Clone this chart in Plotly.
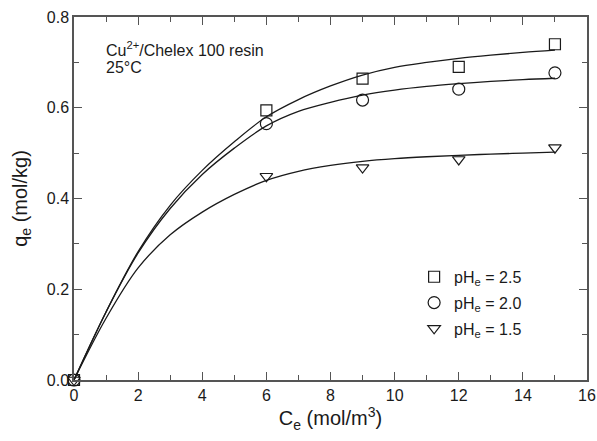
import plotly.graph_objects as go

# measured data points
ce_points = [0, 6, 9, 12, 15]
q_ph25 = [0, 0.594, 0.664, 0.690, 0.740]
q_ph20 = [0, 0.565, 0.617, 0.641, 0.677]
q_ph15 = [0, 0.449, 0.468, 0.486, 0.512]

# fitted curves
ce_curve = [0, 1, 2, 3, 4, 5, 6, 7, 8, 9, 10, 11, 12, 13, 14, 15]
fit_ph25 = [0, 0.150, 0.283, 0.385, 0.462, 0.525, 0.580, 0.618, 0.648, 0.672, 0.689, 0.700, 0.709, 0.716, 0.722, 0.727]
fit_ph20 = [0, 0.150, 0.280, 0.378, 0.453, 0.511, 0.560, 0.592, 0.612, 0.628, 0.639, 0.647, 0.653, 0.658, 0.662, 0.665]
fit_ph15 = [0, 0.136, 0.247, 0.320, 0.370, 0.409, 0.440, 0.460, 0.473, 0.482, 0.488, 0.492, 0.495, 0.498, 0.500, 0.502]

names = ["pH<sub>e</sub> = 2.5", "pH<sub>e</sub> = 2.0", "pH<sub>e</sub> = 1.5"]
symbols = ["square-open", "circle-open", "triangle-down-open"]
sizes = [11, 12, 11]

x_ticks = [0, 2, 4, 6, 8, 10, 12, 14, 16]
y_ticks = [0.0, 0.2, 0.4, 0.6, 0.8]

fig = go.Figure()
for fit in [fit_ph25, fit_ph20, fit_ph15]:
    fig.add_trace(go.Scatter(x=ce_curve, y=fit, mode="lines",
                             line=dict(color="#1a1a1a", width=1.3, shape="spline", smoothing=1.0),
                             showlegend=False, hoverinfo="skip", cliponaxis=False))
for i, q in enumerate([q_ph25, q_ph20, q_ph15]):
    fig.add_trace(go.Scatter(x=ce_points, y=q, mode="markers", name=names[i],
                             legendgroup=str(i),
                             marker=dict(symbol=symbols[i], size=sizes[i], color="#1a1a1a",
                                         line=dict(width=1.2, color="#1a1a1a")),
                             cliponaxis=False))

font_family = "Liberation Sans, Arial, Helvetica, sans-serif"
axis_common = dict(showline=True, linecolor="#555555", linewidth=1.5, mirror="ticks",
                   ticks="inside", ticklen=8, tickwidth=1.2, tickcolor="#555555",
                   showgrid=False, zeroline=False, automargin=False,
                   tickfont=dict(size=16, color="#1a1a1a", family=font_family))

fig.update_layout(
    width=597, height=441,
    margin=dict(l=74, r=10, t=17, b=61, autoexpand=False),
    paper_bgcolor="white", plot_bgcolor="white",
    font=dict(family=font_family, color="#1a1a1a"),
    xaxis=dict(range=[0, 16], tickvals=x_ticks,
               minor=dict(dtick=1, ticks="inside", ticklen=5, tickcolor="#555555", tickwidth=1.2),
               title=dict(text="C<sub>e</sub> (mol/m<sup>3</sup>)", font=dict(size=20), standoff=8),
               **axis_common),
    yaxis=dict(range=[0, 0.8], tickvals=y_ticks, tickformat=".1f",
               minor=dict(dtick=0.1, ticks="inside", ticklen=5, tickcolor="#555555", tickwidth=1.2),
               title=dict(text="q<sub>e</sub> (mol/kg)", font=dict(size=20), standoff=14),
               **axis_common),
    legend=dict(x=0.663, y=0.331, xanchor="left", yanchor="top",
                traceorder="grouped", tracegroupgap=2,
                font=dict(size=16, family=font_family),
                bgcolor="rgba(0,0,0,0)"),
    annotations=[
        dict(text="Cu<sup>2+</sup>/Chelex 100 resin", xref="paper", yref="paper",
             x=0.058, y=0.912, xanchor="left", yanchor="middle", showarrow=False,
             align="left", font=dict(size=16, family=font_family)),
        dict(text="25°C", xref="paper", yref="paper",
             x=0.058, y=0.860, xanchor="left", yanchor="middle", showarrow=False,
             align="left", font=dict(size=16, family=font_family)),
    ],
)

fig.write_html("out.html", config={"displayModeBar": False},
               post_script="document.body.style.margin='0';")
